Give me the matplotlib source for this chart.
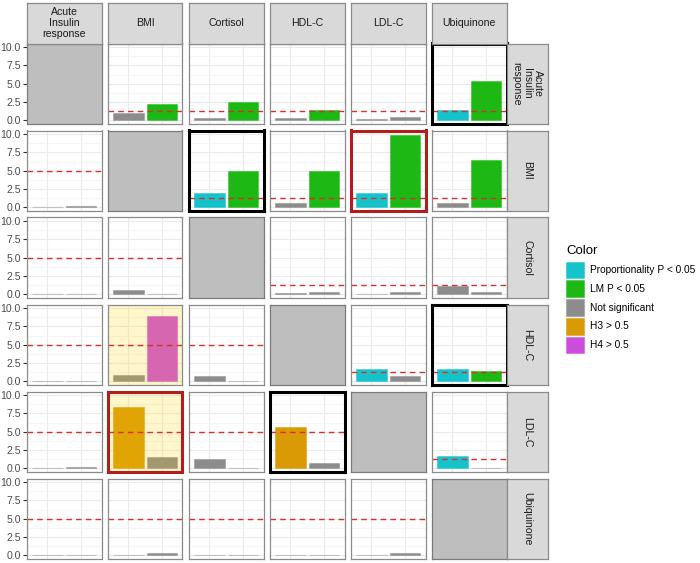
import matplotlib

matplotlib.use("Agg")
import matplotlib.pyplot as plt  # noqa: E402
import numpy as np  # noqa: E402
from matplotlib.colors import to_rgba  # noqa: E402
from matplotlib.patches import Patch, Rectangle  # noqa: E402

plt.rcParams["font.family"] = ["Liberation Sans", "DejaVu Sans"]

TRAITS = ["Acute\nInsulin\nresponse", "BMI", "Cortisol", "HDL-C", "LDL-C", "Ubiquinone"]
NAN = np.nan
# -log10 p values, rows = exposure strip (right), cols = outcome strip (top)
BAR1 = [
    [NAN, 0.94, 0.30, 0.36, 0.15, 1.35],
    [0.05, NAN, 1.98, 0.54, 1.98, 0.63],
    [0.03, 0.54, NAN, 0.22, 0.02, 1.08],
    [0.03, 0.90, 0.72, NAN, 1.62, 1.62],
    [0.03, 8.38, 1.26, 5.68, NAN, 1.67],
    [0.01, 0.03, 0.02, 0.03, 0.03, NAN],
]
BAR2 = [
    [NAN, 2.24, 2.47, 1.35, 0.45, 5.38],
    [0.22, NAN, 4.95, 4.90, 9.95, 6.50],
    [0.03, 0.05, NAN, 0.27, 0.32, 0.32],
    [0.08, 8.90, 0.05, NAN, 0.68, 1.35],
    [0.13, 1.53, 0.06, 0.68, NAN, 0.02],
    [0.01, 0.36, 0.02, 0.05, 0.36, NAN],
]
# colour codes: P proportionality, L LM, N not significant, 3 H3, 4 H4
CODE1 = ["-NNNNP", "N-PNPN", "NN-NNN", "NNN-PP", "N3N3-P", "NNNNN-"]
CODE2 = ["-LLLNL", "N-LLLL", "NN-NNN", "N4N-NL", "NNNN-N", "NNNNN-"]
THRESH_UPPER = 1.3
THRESH_LOWER = 5.0
BLACK_BOX = [(0, 5), (1, 2), (3, 5), (4, 3)]
RED_BOX = [(1, 4), (4, 1)]
YELLOW = [(3, 1), (4, 1)]

LEGEND_CODES = ["P", "L", "N", "3", "4"]
LEGEND_LABELS = ["Proportionality P < 0.05", "LM P < 0.05", "Not significant", "H3 > 0.5", "H4 > 0.5"]
COLORS = {"P": "#17C3CA", "L": "#1DB814", "N": "#8C8C8C", "3": "#D99A05", "4": "#CC4CDB"}

W, H = 700, 563
fig = plt.figure(figsize=(W / 100, H / 100), dpi=100)


def box(x, y, w, h):
    return [x / W, 1 - (y + h) / H, w / W, h / H]


def soft(color):
    return to_rgba(color, 0.45)


PW, PH = 74.5, 80.5
for r in range(6):
    for c in range(6):
        x0, y0 = 27 + 81 * c, 43.5 + 87 * r
        ax = fig.add_axes(box(x0, y0, PW, PH))
        ax.set_xlim(0.4, 2.6)
        ax.set_ylim(-0.5, 10.5)
        ax.set_yticks([0, 2.5, 5, 7.5, 10])
        ax.set_yticks([1.25, 3.75, 6.25, 8.75], minor=True)
        ax.set_xticks([1, 2])
        ax.set_xticklabels([])
        ax.tick_params(axis="x", length=0)
        ax.tick_params(axis="y", which="minor", length=0)
        if c == 0:
            ax.set_yticklabels(["0.0", "2.5", "5.0", "7.5", "10.0"])
            ax.tick_params(axis="y", which="major", length=3, color="#333333",
                           labelsize=7.6, labelcolor="#4D4D4D", pad=1.5)
        else:
            ax.set_yticklabels([])
            ax.tick_params(axis="y", which="major", length=0)
        ax.grid(True, which="major", color="#EBEBEB", lw=0.8)
        ax.grid(True, which="minor", axis="y", color="#F3F3F3", lw=0.5)
        ax.set_axisbelow(True)
        edge, lw = "#8A8A8A", 0.9
        if r == c:
            ax.set_facecolor("#BEBEBE")
            ax.grid(False, which="both")
            edge = "#7A7A7A"
        else:
            vals = [BAR1[r][c], BAR2[r][c]]
            cols = [COLORS[CODE1[r][c]], COLORS[CODE2[r][c]]]
            ax.bar([1, 2], vals, width=0.9, color=cols,
                   edgecolor=[soft(k) for k in cols], linewidth=0.8, zorder=2)
            if (r, c) in YELLOW:
                ax.add_patch(Rectangle((0, 0), 1, 1, transform=ax.transAxes,
                                       facecolor="#FFD200", alpha=0.2, lw=0, zorder=3))
            thr = THRESH_LOWER if r > c else THRESH_UPPER
            ax.axhline(thr, color="#D62F2F", lw=1.0, ls=(0, (4, 3)), zorder=4)
        if (r, c) in BLACK_BOX:
            edge, lw = "black", 2.2
        if (r, c) in RED_BOX:
            edge, lw = "#B21E1E", 2.2
        for s in ax.spines.values():
            s.set_color(edge)
            s.set_linewidth(lw)
            s.set_zorder(5)

        if r == 0:
            sx = fig.add_axes(box(x0, 3, PW, 40.5))
            sx.set_facecolor("#D9D9D9")
            sx.set_xticks([])
            sx.set_yticks([])
            for s in sx.spines.values():
                s.set_color("#8A8A8A")
                s.set_linewidth(0.9)
            sx.text(0.5, 0.5, TRAITS[c], ha="center", va="center", fontsize=7.6,
                    color="#1A1A1A", linespacing=1.15, transform=sx.transAxes)
        if c == 5:
            sy = fig.add_axes(box(x0 + PW, y0, 41.5, PH))
            sy.set_facecolor("#D9D9D9")
            sy.set_xticks([])
            sy.set_yticks([])
            for s in sy.spines.values():
                s.set_color("#8A8A8A")
                s.set_linewidth(0.9)
            sy.text(0.5, 0.5, TRAITS[r], ha="center", va="center", fontsize=7.6,
                    color="#1A1A1A", rotation=-90, linespacing=1.15,
                    transform=sy.transAxes)

# legend: title as separate text so the gap to the keys matches
fig.text(566 / W, 1 - 250.5 / H, "Color", ha="left", va="center", fontsize=9.5, color="black")
handles = [Patch(facecolor=COLORS[k], edgecolor=soft(COLORS[k]), lw=0.8) for k in LEGEND_CODES]
fs = 7.3
fs_px = fs * 100 / 72
leg = fig.legend(handles, LEGEND_LABELS, loc="upper left",
                 bbox_to_anchor=(566 / W, 1 - 261.5 / H), frameon=False,
                 fontsize=fs, borderpad=0, borderaxespad=0,
                 handlelength=17.5 / fs_px, handleheight=22 / fs_px,
                 labelspacing=2.0 / fs_px, handletextpad=7 / fs_px)

fig.savefig("out.png", dpi=100)
